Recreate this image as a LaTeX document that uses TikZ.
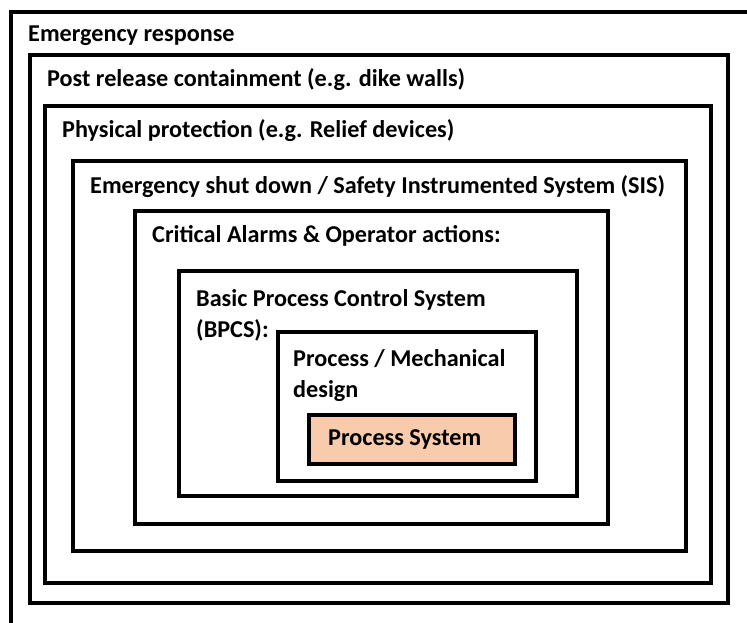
\documentclass[tikz,border=0pt]{standalone}
\usepackage{fontspec}
\setmainfont{Carlito}
\definecolor{peach}{HTML}{F8CBAD}
\begin{document}
\begin{tikzpicture}[x=1pt,y=-1pt,font=\bfseries\fontsize{24.2}{31}\selectfont]
\tikzset{layer/.style={draw=black,line width=3.6pt},
  lbl/.style={anchor=west,inner sep=0pt,align=left}}
\useasboundingbox (0,0) rectangle (747,623);
% outermost layer runs off the page to the right and bottom
\draw[layer](11,623)--(11,12)--(747,12);
\draw[layer](30,55) rectangle (728,603);
\draw[layer](45,106) rectangle (711,583);
\draw[layer](73,161) rectangle (686,551);
\draw[layer](135,211) rectangle (608,524);
\draw[layer](179,271) rectangle (577,496);
\draw[layer](278,332) rectangle (536,481);
\draw[layer,fill=peach](309,415) rectangle (515,464);
% layer names
\node[lbl](er) at (28,36) {Emergency response};
\node[lbl](prc) at (47,80) {Post release containment (e.g. dike walls)};
\node[lbl](pp) at (62,131) {Physical protection (e.g. Relief devices)};
\node[lbl](esd) at (90,187) {Emergency shut down / Safety Instrumented System (SIS)};
\node[lbl](alarm) at (152,236) {Critical Alarms \& Operator actions:};
\node[lbl](bpcs) at (196,315) {Basic Process Control System\\(BPCS):};
\node[lbl](mech) at (293,376) {Process / Mechanical\\design};
\node[lbl](ps) at (328,439) {Process System};
\end{tikzpicture}
\end{document}
